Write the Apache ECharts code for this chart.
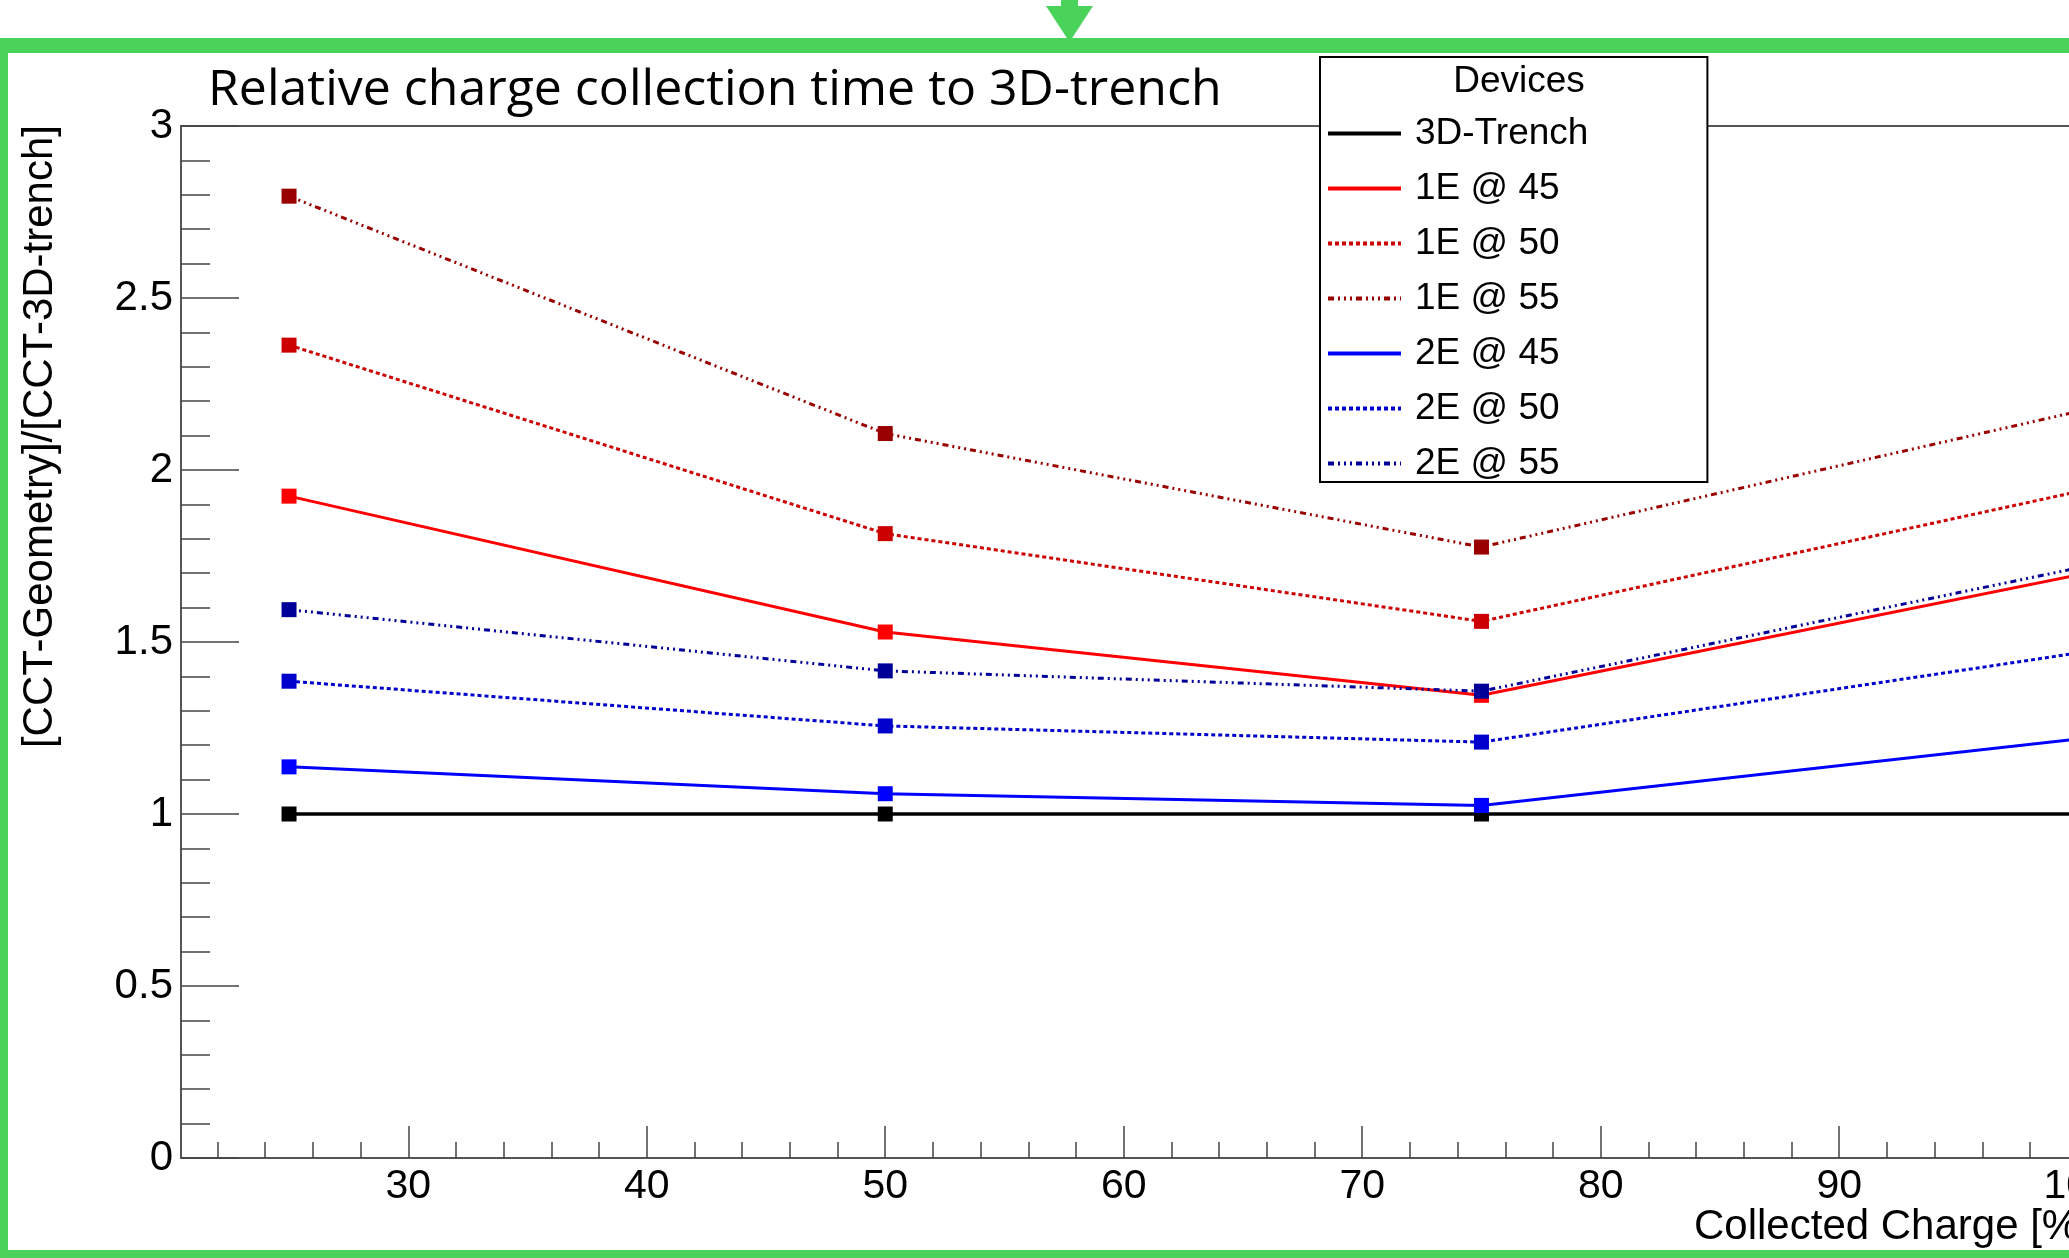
<!DOCTYPE html>
<html>
<head>
<meta charset="utf-8">
<script src="https://cdn.jsdelivr.net/npm/echarts@6/dist/echarts.min.js"></script>
<style>
  html, body { margin: 0; padding: 0; background: #fff; }
  #chart { width: 2069px; height: 1258px; }
</style>
</head>
<body>
<div id="chart"></div>
<script>
// collected charge [%]
const charge = [25, 50, 75, 100];
// relative collection time, one list per device
const trench3D = [1.0, 1.0, 1.0, 1.0];
const e1at45 = [1.924, 1.529, 1.345, 1.695];
const e1at50 = [2.363, 1.815, 1.560, 1.937];
const e1at55 = [2.796, 2.106, 1.776, 2.170];
const e2at45 = [1.137, 1.059, 1.025, 1.218];
const e2at50 = [1.386, 1.256, 1.209, 1.468];
const e2at55 = [1.594, 1.416, 1.357, 1.715];

const deviceNames = ['3D-Trench', '1E @ 45', '1E @ 50', '1E @ 55', '2E @ 45', '2E @ 50', '2E @ 55'];
const xMajorTicks = [30, 40, 50, 60, 70, 80, 90, 100];
const xMinorTicks = [22, 24, 26, 28, 32, 34, 36, 38, 42, 44, 46, 48, 52, 54, 56, 58, 62, 64, 66, 68,
  72, 74, 76, 78, 82, 84, 86, 88, 92, 94, 96, 98, 102, 104];

const xMin = 20.47, xMax = 104.5;
const green = '#49d35b';
const tickColor = '#444';

const dotted = [4, 3];
const dashDots = [6, 4, 2, 4, 2, 4, 2, 4];

function makeSeries(name, values, color, type, width) {
  return {
    name: name,
    type: 'line',
    data: charge.map((c, i) => [c, values[i]]),
    symbol: 'rect',
    symbolSize: 15,
    itemStyle: { color: color },
    lineStyle: { color: color, width: width || 3, type: type },
    emphasis: { disabled: true }
  };
}

const chart = echarts.init(document.getElementById('chart'));
const option = {
  animation: false,
  backgroundColor: '#fff',
  grid: {
    left: 181, top: 126, width: 2004, height: 1032,
    outerBoundsMode: 'none',
    containLabel: false,
    show: true, borderColor: '#555', borderWidth: 2, backgroundColor: 'transparent'
  },
  legend: {
    left: 1320, top: 57,
    orient: 'vertical',
    selectedMode: false,
    itemWidth: 73,
    itemHeight: 37,
    itemGap: 18,
    padding: [58, 119, 0, 6],
    backgroundColor: '#fff',
    borderColor: '#000',
    borderWidth: 2,
    borderRadius: 0,
    itemStyle: { opacity: 0 },
    lineStyle: { width: 4 },
    textStyle: { fontFamily: 'Liberation Sans', fontSize: 37, color: '#000', padding: [0, 0, 0, 9] },
    data: deviceNames
  },
  xAxis: [
    {
      type: 'value', min: xMin, max: xMax,
      position: 'bottom',
      axisLine: { show: false },
      splitLine: { show: false },
      axisTick: { inside: true, length: 32, customValues: xMajorTicks, lineStyle: { color: tickColor, width: 1.5 } },
      axisLabel: { customValues: xMajorTicks, fontFamily: 'Liberation Sans', fontSize: 41, color: '#000', margin: 8 }
    },
    {
      type: 'value', min: xMin, max: xMax,
      position: 'bottom',
      axisLine: { show: false },
      splitLine: { show: false },
      axisTick: { inside: true, length: 16, customValues: xMinorTicks, lineStyle: { color: tickColor, width: 1.5 } },
      axisLabel: { show: false }
    }
  ],
  yAxis: {
    type: 'value', min: 0, max: 3, interval: 0.5,
    axisLine: { show: false },
    splitLine: { show: false },
    axisTick: { inside: true, length: 58, lineStyle: { color: tickColor, width: 1.5 } },
    minorTick: { show: true, splitNumber: 5, length: 29, lineStyle: { color: tickColor, width: 1.5 } },
    axisLabel: { fontFamily: 'Liberation Sans', fontSize: 42, color: '#000', margin: 8 }
  },
  series: [
    makeSeries(deviceNames[0], trench3D, '#000000', 'solid', 3.5),
    makeSeries(deviceNames[1], e1at45, '#ff0000', 'solid'),
    makeSeries(deviceNames[2], e1at50, '#cc0000', dotted),
    makeSeries(deviceNames[3], e1at55, '#990000', dashDots),
    makeSeries(deviceNames[4], e2at45, '#0000ff', 'solid'),
    makeSeries(deviceNames[5], e2at50, '#0000cc', dotted),
    makeSeries(deviceNames[6], e2at55, '#000099', dashDots)
  ],
  graphic: [
    { type: 'rect', shape: { x: 0, y: 38, width: 2069, height: 15 }, style: { fill: green }, z: 100 },
    { type: 'rect', shape: { x: 0, y: 38, width: 8, height: 1220 }, style: { fill: green }, z: 100 },
    { type: 'rect', shape: { x: 0, y: 1250, width: 2069, height: 8 }, style: { fill: green }, z: 100 },
    { type: 'rect', shape: { x: 1061, y: 0, width: 17, height: 8 }, style: { fill: green }, z: 100 },
    { type: 'polygon', shape: { points: [[1046, 6], [1093, 6], [1069.5, 42]] }, style: { fill: green }, z: 100 },
    {
      type: 'text', x: 208, y: 91, z: 100,
      style: { text: 'Relative charge collection time to 3D-trench', fontFamily: 'Open Sans', fontSize: 50,
        fill: '#000', textAlign: 'left', textVerticalAlign: 'middle' }
    },
    {
      type: 'text', x: 40, y: 125, rotation: Math.PI / 2, z: 100,
      style: { text: '[CCT-Geometry]/[CCT-3D-trench]', fontFamily: 'Liberation Sans', fontSize: 42,
        fill: '#000', textAlign: 'right', textVerticalAlign: 'middle' }
    },
    {
      type: 'text', x: 1694, y: 1227, z: 100,
      style: { text: 'Collected Charge [%]', fontFamily: 'Liberation Sans', fontSize: 42,
        fill: '#000', textAlign: 'left', textVerticalAlign: 'middle' }
    },
    {
      type: 'text', x: 1519, y: 82, z: 100,
      style: { text: 'Devices', fontFamily: 'Liberation Sans', fontSize: 37,
        fill: '#000', textAlign: 'center', textVerticalAlign: 'middle' }
    }
  ]
};
chart.setOption(option);
</script>
</body>
</html>
